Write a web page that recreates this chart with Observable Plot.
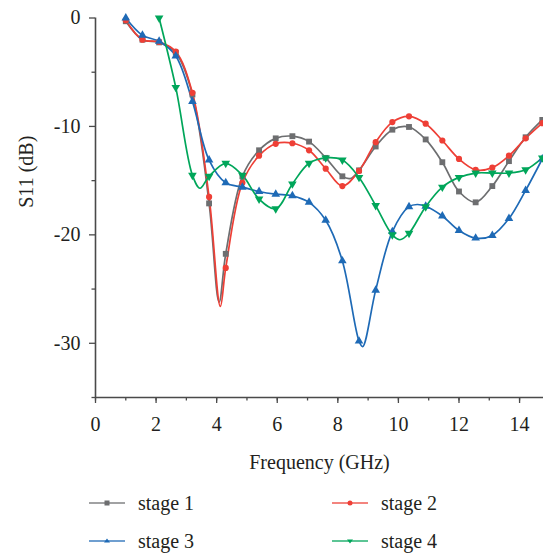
<!DOCTYPE html>
<html>
<head>
<meta charset="utf-8">
<script src="https://cdn.jsdelivr.net/npm/d3@7"></script>
<script src="https://cdn.jsdelivr.net/npm/@observablehq/plot@0.6"></script>
<style>
  html, body { margin: 0; padding: 0; background: #fff; }
  body { width: 543px; height: 553px; overflow: hidden; font-family: "Liberation Serif", "DejaVu Serif", serif; color: #231f20; }
  #legend { position: relative; height: 73px; }
  .item { position: absolute; display: flex; align-items: center; font-size: 20px; height: 30px; }
  .item svg { margin-right: 13px; }
</style>
</head>
<body>
<div id="chart"></div>
<div id="legend"></div>
<script>
// Marker frequencies (GHz)
const freq = [1, 1.55, 2.1, 2.65, 3.2, 3.75, 4.3, 4.85, 5.4, 5.95, 6.5, 7.05, 7.6, 8.15, 8.7, 9.25, 9.8, 10.35, 10.9, 11.45, 12.0, 12.55, 13.1, 13.65, 14.2, 14.75];
const freq4 = freq.slice(2);

// S11 (dB) at marker frequencies
const stage1 = [-0.3, -2.0, -2.25, -3.2, -7.05, -17.1, -21.75, -14.6, -12.2, -11.1, -10.9, -11.4, -12.9, -14.6, -14.05, -11.85, -10.3, -10.05, -11.2, -13.3, -16.0, -17.0, -15.5, -13.2, -11.0, -9.4];
const stage2 = [-0.2, -2.0, -2.2, -3.1, -6.9, -16.5, -23.05, -15.2, -12.7, -11.6, -11.55, -12.2, -13.9, -15.5, -14.1, -11.45, -9.6, -9.07, -9.75, -11.3, -13.0, -14.0, -13.8, -12.7, -11.1, -9.7];
const stage3 = [0, -1.6, -2.15, -3.5, -7.7, -13.1, -15.2, -15.6, -16.0, -16.25, -16.4, -17.0, -18.66, -22.4, -29.8, -25.1, -19.7, -17.4, -17.36, -18.26, -19.6, -20.3, -20.05, -18.5, -15.9, -13.0];
const stage4 = [0, -6.4, -14.5, -14.6, -13.4, -14.5, -16.7, -17.6, -15.3, -13.4, -12.9, -13.1, -14.7, -17.3, -20.0, -19.85, -17.4, -15.6, -14.7, -14.3, -14.3, -14.3, -14.0, -12.9];

// Extra curve points between markers (resonance dips), [frequency, dB]
const stage1Extra = [[4.08, -26.2], [8.42, -14.8]];
const stage2Extra = [[4.12, -26.6]];
const stage3Extra = [[8.82, -30.3], [10.62, -17.2]];
const stage4Extra = [[3.45, -15.7], [10.05, -20.45]];

const names = ["stage 1", "stage 2", "stage 3", "stage 4"];
const colors = ["#6d6e70", "#ee3f36", "#1e6ab6", "#00a65a"];
const xTicks = [0, 2, 4, 6, 8, 10, 12, 14];
const yTicks = [0, -10, -20, -30];

const series = [
  {name: names[0], f: freq, v: stage1, extra: stage1Extra, symbol: "square", r: 3.3, rotate: 0},
  {name: names[1], f: freq, v: stage2, extra: stage2Extra, symbol: "circle", r: 3.1, rotate: 0},
  {name: names[2], f: freq, v: stage3, extra: stage3Extra, symbol: "triangle", r: 3.2, rotate: 0},
  {name: names[3], f: freq4, v: stage4, extra: stage4Extra, symbol: "triangle", r: 3.2, rotate: 180}
];

const markerRows = s => s.f.map((f, i) => ({f, v: s.v[i], series: s.name}));
const lineRows = series.flatMap(s =>
  markerRows(s).concat(s.extra.map(([f, v]) => ({f, v, series: s.name}))).sort((a, b) => a.f - b.f)
);

const font = '"Liberation Serif", "DejaVu Serif", serif';
const axisColor = "#4a4a4a";
const chart = Plot.plot({
  width: 543,
  height: 480,
  marginLeft: 95,
  marginRight: 0,
  marginTop: 17.5,
  marginBottom: 83,
  style: {fontFamily: font, fontSize: "20px", color: "#231f20", background: "#fff"},
  x: {domain: [0, 14.79]},
  y: {domain: [-35, 0]},
  color: {domain: names, range: colors},
  marks: [
    Plot.axisX({ticks: d3.range(0, 15, 1), tickSize: 3.5, tickFormat: () => "", label: null, stroke: axisColor, strokeWidth: 1.3}),
    Plot.axisX({ticks: xTicks, tickSize: 6, tickPadding: 13, tickFormat: d => String(d), label: null, stroke: axisColor, strokeWidth: 1.3, fill: "#231f20", fontFamily: font}),
    Plot.axisY({ticks: [-5, -15, -25, -35], tickSize: 3.5, tickFormat: () => "", label: null, stroke: axisColor, strokeWidth: 1.3}),
    Plot.axisY({ticks: yTicks, tickSize: 6, tickPadding: 9, tickFormat: d => String(d), label: null, stroke: axisColor, strokeWidth: 1.3, fill: "#231f20", fontFamily: font}),
    Plot.ruleX([0], {stroke: axisColor, strokeWidth: 1.6}),
    Plot.ruleY([-35], {stroke: axisColor, strokeWidth: 1.6}),
    Plot.text(["Frequency (GHz)"], {frameAnchor: "bottom", dy: 71, text: d => d, fontSize: 20, fill: "#231f20", fontFamily: font}),
    Plot.text(["S11 (dB)"], {frameAnchor: "left", dx: -69, rotate: -90, text: d => d, fontSize: 20, fill: "#231f20", fontFamily: font}),
    Plot.line(lineRows, {x: "f", y: "v", z: "series", stroke: "series", curve: "catmull-rom", strokeWidth: 1.7}),
    ...series.map(s => Plot.dot(markerRows(s), {x: "f", y: "v", fill: "series", stroke: "none", symbol: s.symbol, r: s.r, rotate: s.rotate}))
  ]
});
document.getElementById("chart").appendChild(chart);

// Legend
const legend = document.getElementById("legend");
const pos = [[89, 8], [332, 8], [89, 46], [332, 46]];
series.forEach((s, i) => {
  const item = document.createElement("div");
  item.className = "item";
  item.style.left = pos[i][0] + "px";
  item.style.top = pos[i][1] + "px";
  const c = colors[i];
  let m;
  if (s.symbol === "square") m = `<rect x="15.5" y="4.5" width="5" height="5" fill="${c}"/>`;
  else if (s.symbol === "circle") m = `<circle cx="18" cy="7" r="2.5" fill="${c}"/>`;
  else if (s.rotate === 180) m = `<path d="M15,5.5 L21,5.5 L18,9.5 Z" fill="${c}"/>`;
  else m = `<path d="M15,8.5 L21,8.5 L18,4.5 Z" fill="${c}"/>`;
  item.innerHTML = `<svg width="36" height="14"><line x1="0" x2="36" y1="7" y2="7" stroke="${c}" stroke-width="1.6" opacity="0.85"/>${m}</svg><span>${s.name}</span>`;
  legend.appendChild(item);
});
</script>
</body>
</html>
